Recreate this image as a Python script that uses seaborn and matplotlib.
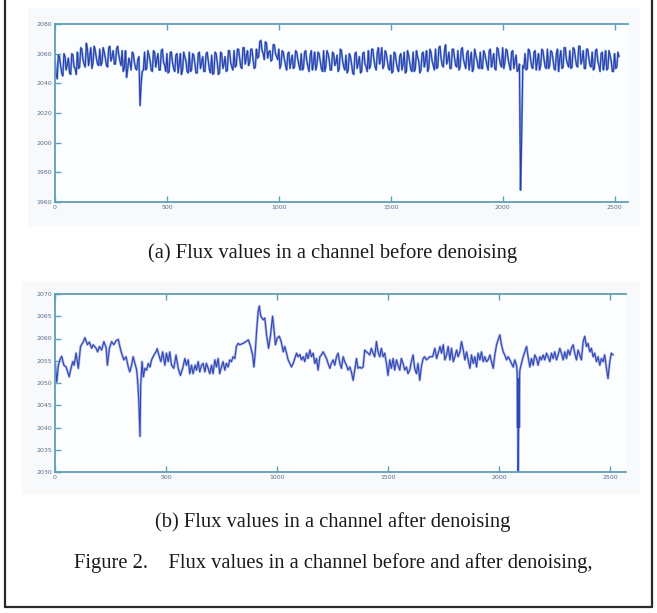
import numpy as np
import pandas as pd
import matplotlib
matplotlib.use("Agg")
import matplotlib.pyplot as plt
import seaborn as sns
from matplotlib.lines import Line2D
from matplotlib.patches import Rectangle

# (a) raw flux: samples 0, 10, 20, ...
raw_flux_even = [
    2056, 2043, 2058, 2047, 2060, 2049, 2057, 2046, 2059, 2050,
    2061, 2051, 2063, 2053, 2067, 2052, 2064, 2054, 2062, 2053,
    2063, 2054, 2061, 2052, 2064, 2055, 2062, 2053, 2065, 2055,
    2062, 2051, 2044, 2057, 2049, 2060, 2050, 2056, 2025, 2048,
    2061, 2050, 2059, 2049, 2062, 2051, 2060, 2049, 2063, 2052,
    2060, 2048, 2061, 2050, 2059, 2047, 2060, 2049, 2058, 2048,
    2061, 2049, 2059, 2047, 2060, 2050, 2058, 2048, 2061, 2049,
    2059, 2047, 2060, 2046, 2061, 2050, 2058, 2049, 2062, 2051,
    2062, 2052, 2063, 2051, 2064, 2053, 2062, 2054, 2063, 2050,
    2063, 2058, 2069, 2060, 2068, 2057, 2062, 2056, 2066, 2058,
    2063, 2053, 2061, 2052, 2060, 2050, 2059, 2051, 2061, 2052,
    2060, 2050, 2062, 2051, 2059, 2049, 2061, 2052, 2060, 2050,
    2062, 2051, 2060, 2049, 2061, 2052, 2059, 2050, 2062, 2051,
    2059, 2049, 2058, 2047, 2060, 2050, 2058, 2048, 2061, 2051,
    2062, 2052, 2063, 2051, 2061, 2053, 2064, 2052, 2060, 2050,
    2059, 2048, 2060, 2050, 2058, 2049, 2061, 2048, 2059, 2049,
    2061, 2050, 2058, 2047, 2060, 2051, 2062, 2050, 2061, 2052,
    2063, 2051, 2065, 2052, 2062, 2053, 2061, 2050, 2063, 2052,
    2062, 2051, 2064, 2053, 2060, 2049, 2061, 2050, 2059, 2051,
    2061, 2050, 2060, 2052, 2062, 2051, 2060, 2049, 2063, 2053,
    2064, 2054, 2062, 2052, 2061, 2050, 2059, 2049, 1968, 2052,
    2060, 2050, 2062, 2051, 2061, 2049, 2060, 2052, 2062, 2051,
    2063, 2052, 2061, 2050, 2060, 2048, 2062, 2051, 2064, 2053,
    2062, 2051, 2063, 2052, 2065, 2053, 2062, 2050, 2063, 2052,
    2061, 2050, 2063, 2052, 2060, 2049, 2062, 2050, 2059, 2048,
    2060, 2051, 2058,
]
# samples 5, 15, 25, ...
raw_flux_odd = [
    2046, 2059, 2052, 2045, 2058, 2053, 2047, 2060, 2051, 2046,
    2050, 2064, 2056, 2051, 2063, 2058, 2050, 2065, 2057, 2052,
    2052, 2064, 2057, 2051, 2065, 2058, 2053, 2063, 2059, 2052,
    2048, 2062, 2050, 2054, 2061, 2054, 2049, 2058, 2040, 2049,
    2049, 2062, 2055, 2048, 2061, 2056, 2049, 2062, 2054, 2048,
    2047, 2061, 2054, 2048, 2060, 2053, 2046, 2061, 2055, 2047,
    2048, 2060, 2053, 2047, 2061, 2054, 2048, 2060, 2055, 2047,
    2046, 2061, 2054, 2047, 2060, 2053, 2048, 2062, 2054, 2049,
    2051, 2063, 2057, 2050, 2064, 2058, 2052, 2063, 2056, 2051,
    2057, 2068, 2062, 2056, 2067, 2061, 2055, 2066, 2060, 2056,
    2050, 2062, 2056, 2049, 2061, 2055, 2050, 2062, 2056, 2049,
    2049, 2061, 2055, 2048, 2062, 2054, 2049, 2061, 2055, 2048,
    2048, 2062, 2056, 2049, 2060, 2054, 2048, 2063, 2055, 2049,
    2047, 2060, 2053, 2046, 2061, 2054, 2047, 2060, 2053, 2048,
    2050, 2063, 2056, 2049, 2064, 2057, 2050, 2062, 2055, 2049,
    2047, 2061, 2054, 2048, 2060, 2053, 2047, 2062, 2054, 2048,
    2048, 2062, 2055, 2049, 2061, 2056, 2048, 2063, 2055, 2049,
    2050, 2064, 2057, 2051, 2066, 2056, 2050, 2063, 2057, 2051,
    2049, 2063, 2056, 2050, 2062, 2055, 2048, 2063, 2056, 2050,
    2050, 2062, 2056, 2049, 2063, 2055, 2050, 2064, 2057, 2051,
    2050, 2063, 2056, 2049, 2062, 2055, 2048, 2053, 2006, 2050,
    2049, 2063, 2056, 2050, 2062, 2055, 2049, 2063, 2056, 2050,
    2050, 2062, 2056, 2049, 2063, 2057, 2050, 2064, 2056, 2051,
    2050, 2064, 2057, 2051, 2065, 2056, 2050, 2063, 2057, 2051,
    2049, 2062, 2055, 2048, 2061, 2054, 2049, 2062, 2055, 2048,
    2050, 2061,
]

# (b) denoised flux, (sample index, value)
den_index = [
    0, 8, 15, 22, 30, 40, 50, 64, 70, 80, 86, 95, 105, 115, 128, 135, 146, 155, 165, 172,
    185, 192, 200, 210, 220, 230, 236, 245, 255, 265, 275, 285, 292, 300, 310, 320, 330, 337, 345, 352,
    360, 368, 372, 377, 383, 386, 392, 398, 405, 413, 420, 428, 435, 446, 455, 460, 470, 477, 485, 495,
    502, 510, 517, 525, 535, 545, 555, 565, 575, 585, 592, 600, 607, 615, 622, 631, 637, 645, 652, 660,
    667, 675, 682, 690, 697, 705, 712, 720, 727, 735, 742, 750, 757, 765, 772, 780, 787, 795, 802, 810,
    817, 825, 832, 847, 860, 871, 881, 890, 896, 902, 908, 915, 920, 927, 938, 945, 953, 962, 971, 980,
    986, 993, 1001, 1010, 1019, 1028, 1035, 1043, 1050, 1058, 1065, 1073, 1080, 1088, 1095, 1103, 1110, 1118, 1125, 1133,
    1140, 1148, 1155, 1163, 1170, 1178, 1185, 1193, 1200, 1208, 1215, 1223, 1230, 1238, 1245, 1253, 1260, 1268, 1275, 1283,
    1290, 1298, 1305, 1313, 1320, 1328, 1335, 1343, 1350, 1358, 1365, 1373, 1380, 1388, 1395, 1403, 1410, 1418, 1425, 1433,
    1440, 1448, 1455, 1463, 1470, 1478, 1485, 1493, 1500, 1508, 1515, 1523, 1530, 1538, 1545, 1553, 1560, 1568, 1575, 1583,
    1590, 1598, 1605, 1613, 1620, 1628, 1635, 1643, 1650, 1658, 1665, 1673, 1688, 1701, 1711, 1719, 1726, 1734, 1741, 1749,
    1756, 1764, 1771, 1779, 1786, 1794, 1801, 1809, 1816, 1824, 1831, 1839, 1846, 1854, 1861, 1869, 1876, 1884, 1891, 1899,
    1906, 1914, 1921, 1929, 1936, 1944, 1951, 1959, 1966, 1974, 1981, 1989, 1996, 2004, 2011, 2019, 2026, 2034, 2041, 2049,
    2056, 2064, 2071, 2079, 2082, 2083, 2084, 2085, 2086, 2088, 2089, 2091, 2093, 2094, 2101, 2109, 2116, 2124, 2131, 2139,
    2146, 2154, 2161, 2169, 2176, 2184, 2191, 2199, 2206, 2214, 2221, 2229, 2236, 2244, 2251, 2259, 2266, 2274, 2281, 2289,
    2296, 2304, 2311, 2319, 2326, 2334, 2341, 2349, 2356, 2364, 2371, 2379, 2386, 2394, 2401, 2409, 2416, 2424, 2431, 2439,
    2446, 2454, 2461, 2469, 2476, 2484, 2491, 2499, 2506, 2514,
]
den_flux = [
    2055.0, 2050.2, 2054.0, 2055.2, 2056.0, 2054.0, 2053.6, 2051.4, 2052.9, 2054.8, 2054.0, 2056.7, 2053.3, 2058.2, 2059.3, 2060.2, 2058.6, 2059.2, 2057.8, 2058.6,
    2057.8, 2057.0, 2058.2, 2057.4, 2059.3, 2058.0, 2054.0, 2057.8, 2059.3, 2058.6, 2059.5, 2059.8, 2058.2, 2056.7, 2055.2, 2055.9, 2053.6, 2052.5, 2054.0, 2055.9,
    2054.4, 2052.9, 2050.6, 2046.4, 2038.0, 2049.5, 2054.8, 2051.4, 2053.3, 2052.9, 2054.4, 2053.6, 2055.2, 2056.3, 2057.0, 2057.7, 2055.9, 2054.8, 2057.0, 2054.0,
    2056.7, 2054.8, 2057.0, 2054.0, 2053.3, 2056.3, 2053.3, 2051.7, 2053.3, 2055.5, 2054.0, 2055.2, 2052.1, 2054.0, 2052.1, 2054.0, 2052.9, 2054.8, 2052.5, 2054.0,
    2054.4, 2052.5, 2054.4, 2053.3, 2052.1, 2054.0, 2052.1, 2055.2, 2053.6, 2055.5, 2052.1, 2053.6, 2054.8, 2052.9, 2054.4, 2053.6, 2055.2, 2054.8, 2055.9, 2055.5,
    2058.2, 2058.9, 2058.6, 2058.9, 2059.3, 2059.7, 2058.2, 2056.3, 2053.6, 2057.0, 2061.6, 2066.1, 2067.3, 2065.0, 2064.2, 2064.6, 2060.8, 2057.8, 2060.8, 2065.0,
    2062.3, 2058.6, 2060.1, 2060.5, 2059.3, 2057.0, 2058.2, 2056.7, 2055.2, 2054.4, 2053.6, 2054.4, 2055.5, 2056.7, 2055.9, 2056.4, 2055.2, 2055.9, 2054.8, 2056.7,
    2055.5, 2057.4, 2055.9, 2056.7, 2054.4, 2055.5, 2052.9, 2055.9, 2056.3, 2057.0, 2056.3, 2055.5, 2054.4, 2053.3, 2054.4, 2055.2, 2054.0, 2055.9, 2056.7, 2054.4,
    2053.3, 2055.9, 2054.8, 2054.0, 2052.9, 2053.6, 2052.5, 2050.6, 2052.9, 2055.5, 2053.3, 2053.6, 2053.3, 2053.6, 2057.4, 2057.0, 2056.7, 2056.3, 2057.8, 2056.7,
    2055.9, 2059.3, 2057.0, 2055.9, 2057.8, 2055.9, 2056.7, 2054.4, 2051.7, 2055.2, 2053.3, 2055.5, 2052.9, 2055.2, 2054.0, 2052.9, 2055.5, 2054.4, 2052.9, 2053.6,
    2052.1, 2052.9, 2054.8, 2056.3, 2053.3, 2052.1, 2054.4, 2050.6, 2053.6, 2055.5, 2055.9, 2055.2, 2055.9, 2055.9, 2057.8, 2055.5, 2056.7, 2058.2, 2056.7, 2058.6,
    2055.2, 2056.3, 2058.2, 2055.2, 2057.8, 2054.8, 2055.9, 2057.4, 2055.9, 2057.0, 2059.3, 2057.4, 2055.2, 2057.0, 2055.2, 2053.3, 2056.3, 2054.4, 2055.9, 2053.6,
    2056.7, 2055.2, 2057.0, 2054.8, 2055.9, 2054.8, 2055.2, 2056.3, 2054.8, 2053.3, 2056.3, 2058.6, 2059.7, 2060.8, 2058.6, 2057.0, 2056.3, 2055.2, 2055.9, 2055.2,
    2054.4, 2053.6, 2055.2, 2054.0, 2052.1, 2040.0, 2051.0, 2039.0, 2030.0, 2039.0, 2051.0, 2040.0, 2052.0, 2052.9, 2054.4, 2055.9, 2057.0, 2058.2, 2055.9, 2053.6,
    2055.5, 2054.0, 2056.3, 2055.5, 2054.0, 2055.9, 2055.2, 2056.3, 2055.2, 2056.7, 2055.9, 2054.8, 2056.7, 2055.5, 2057.0, 2055.2, 2056.3, 2057.8, 2056.7, 2055.2,
    2057.0, 2055.5, 2057.4, 2056.3, 2057.8, 2058.6, 2056.7, 2055.2, 2057.4, 2056.3, 2055.2, 2059.3, 2060.5, 2058.2, 2058.9, 2057.0, 2057.8, 2055.9, 2056.7, 2054.8,
    2055.9, 2054.0, 2055.5, 2054.8, 2056.3, 2053.3, 2051.0, 2054.8, 2056.7, 2056.3,
]

x_ticks = [0, 500, 1000, 1500, 2000, 2500]
a_yticks = [1960, 1980, 2000, 2020, 2040, 2060, 2080]
b_yticks = [2030, 2035, 2040, 2045, 2050, 2055, 2060, 2065, 2070]

caption_a = "(a) Flux values in a channel before denoising"
caption_b = "(b) Flux values in a channel after denoising"
caption_fig = "Figure 2.    Flux values in a channel before and after denoising,"

raw_df = pd.concat([
    pd.DataFrame({"sample": range(0, 10 * len(raw_flux_even), 10), "flux": raw_flux_even}),
    pd.DataFrame({"sample": range(5, 10 * len(raw_flux_odd), 10), "flux": raw_flux_odd}),
]).sort_values("sample").reset_index(drop=True)
den_df = pd.DataFrame({"sample": den_index, "flux": den_flux})

sns.set_style("white")
plt.rcParams["font.family"] = ["DejaVu Sans"]

W, H = 657, 613
fig = plt.figure(figsize=(W / 100, H / 100), dpi=100)
fig.patch.set_facecolor("white")


def box(l, t, r, b):
    return [l / W, 1 - b / H, (r - l) / W, (b - t) / H]


# faint grey panel backgrounds from the matlab figure window
fig.add_artist(Rectangle((28 / W, 1 - 226 / H), 612 / W, 218 / H,
                         transform=fig.transFigure, facecolor="#f8f9fb", edgecolor="none", zorder=0))
fig.add_artist(Rectangle((22 / W, 1 - 494 / H), 618 / W, 212 / H,
                         transform=fig.transFigure, facecolor="#f8f9fb", edgecolor="none", zorder=0))

ax1 = fig.add_axes(box(55, 24, 628, 202))
ax2 = fig.add_axes(box(55, 294, 626, 472))

spine_col = "#5f9fb8"
label_col = "#55708c"

# raw series: light halo under a dark blue trace
sns.lineplot(data=raw_df, x="sample", y="flux", ax=ax1, color="#4f8fdc", linewidth=1.5, alpha=0.85)
sns.lineplot(data=raw_df, x="sample", y="flux", ax=ax1, color="#3234a4", linewidth=0.7)

sns.lineplot(data=den_df, x="sample", y="flux", ax=ax2, color="#a8b6ea", linewidth=1.8)
sns.lineplot(data=den_df, x="sample", y="flux", ax=ax2, color="#3447b2", linewidth=0.8)

for ax, yt, xmax in [(ax1, a_yticks, 2560), (ax2, b_yticks, 2572)]:
    ax.set_facecolor("#fcfdfe")
    ax.set_xlim(0, xmax)
    ax.set_ylim(yt[0], yt[-1])
    ax.set_xticks(x_ticks)
    ax.set_yticks(yt)
    ax.set_xticklabels([str(v) for v in x_ticks])
    ax.set_yticklabels([str(v) for v in yt])
    ax.set_xlabel("")
    ax.set_ylabel("")
    ax.spines["right"].set_visible(False)
    for s in ["left", "top", "bottom"]:
        ax.spines[s].set_color(spine_col)
        ax.spines[s].set_linewidth(1.3)
    ax.tick_params(axis="both", direction="in", length=4, width=1, color=spine_col,
                   labelsize=4.5, labelcolor=label_col, pad=2)
    ax.tick_params(axis="x", top=True, bottom=True)
    ax.tick_params(axis="y", left=True, right=False)

serif = ["Liberation Serif", "DejaVu Serif"]
fig.text(333 / W, 1 - 253 / H, caption_a, ha="center", va="center", fontsize=14.8, family=serif, color="#1a1a1a")
fig.text(333 / W, 1 - 522 / H, caption_b, ha="center", va="center", fontsize=14.8, family=serif, color="#1a1a1a")
fig.text(333 / W, 1 - 563 / H, caption_fig, ha="center", va="center", fontsize=14.8, family=serif, color="#1a1a1a")

# page frame (top edge is cut off in the scan)
frame = dict(transform=fig.transFigure, color="#2a2a2a", linewidth=1.6)
fig.add_artist(Line2D([5 / W, 5 / W], [1, 1 - 607 / H], **frame))
fig.add_artist(Line2D([652 / W, 652 / W], [1, 1 - 607 / H], **frame))
fig.add_artist(Line2D([5 / W, 652 / W], [1 - 607 / H, 1 - 607 / H], **frame))

fig.savefig("out.png", dpi=100)
plt.close(fig)
